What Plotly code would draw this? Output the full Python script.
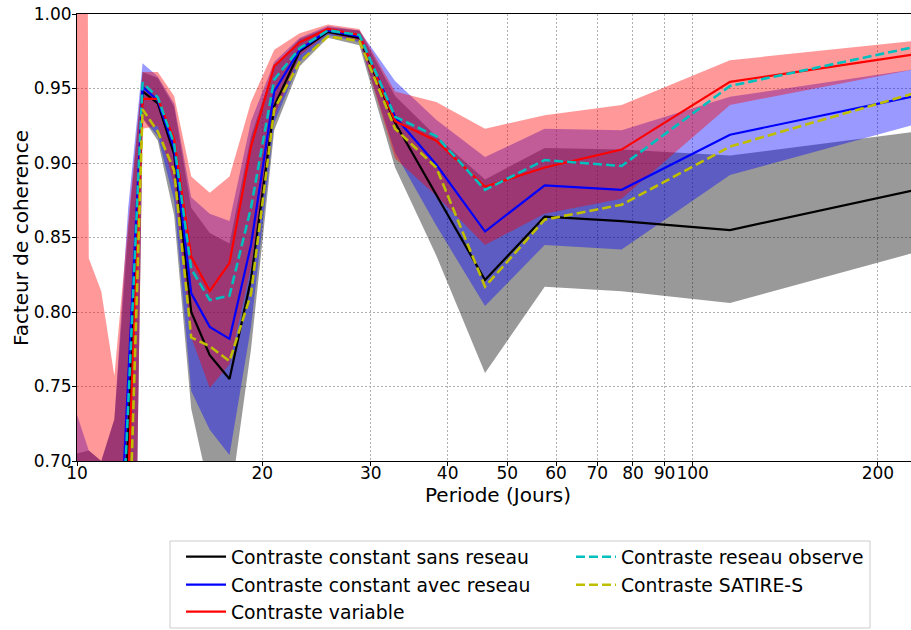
import plotly.graph_objects as go

# Periods (days), ascending
periods = [10.0, 10.45, 10.95, 11.5, 12.11, 12.78, 13.53, 14.38, 15.33, 16.43, 17.69, 19.17,
           20.91, 23.0, 25.56, 28.75, 32.86, 38.33, 46.0, 57.5, 76.67, 115.0, 230.0]

# Coherence factors per model
sans_reseau = [0.45, 0.45, 0.47, 0.50, 0.718, 0.948, 0.940, 0.906, 0.800, 0.771, 0.755, 0.822,
               0.938, 0.975, 0.988, 0.984, 0.927, 0.879, 0.8215, 0.864, 0.861, 0.855, 0.882]
avec_reseau = [0.50, 0.50, 0.52, 0.565, 0.755, 0.951, 0.942, 0.910, 0.8125, 0.790, 0.782, 0.845,
               0.948, 0.976, 0.989, 0.985, 0.931, 0.899, 0.854, 0.885, 0.882, 0.919, 0.945]
variable = [0.40, 0.40, 0.40, 0.40, 0.685, 0.943, 0.943, 0.916, 0.837, 0.814, 0.833, 0.911,
            0.965, 0.981, 0.990, 0.986, 0.928, 0.915, 0.884, 0.897, 0.909, 0.9545, 0.973]
reseau_observe = [0.48, 0.48, 0.50, 0.532, 0.737, 0.954, 0.944, 0.913, 0.829, 0.808, 0.811, 0.870,
                  0.956, 0.977, 0.989, 0.986, 0.931, 0.918, 0.882, 0.902, 0.898, 0.9517, 0.978]
satire_s = [0.35, 0.35, 0.35, 0.35, 0.623, 0.936, 0.921, 0.895, 0.783, 0.777, 0.767, 0.812,
            0.936, 0.968, 0.985, 0.982, 0.923, 0.897, 0.817, 0.862, 0.872, 0.911, 0.947]

# Uncertainty envelopes
gris_haut = [0.705, 0.707, 0.70, 0.728, 0.855, 0.961, 0.957, 0.938, 0.870, 0.853, 0.846, 0.918,
             0.965, 0.983, 0.991, 0.989, 0.945, 0.918, 0.889, 0.910, 0.909, 0.905, 0.921]
gris_bas = [0.2, 0.2, 0.2, 0.2, 0.3, 0.930, 0.915, 0.865, 0.735, 0.679, 0.67, 0.775,
            0.922, 0.965, 0.984, 0.979, 0.897, 0.838, 0.759, 0.817, 0.814, 0.806, 0.840]
bleu_haut = [0.731, 0.707, 0.70, 0.728, 0.87, 0.967, 0.958, 0.940, 0.877, 0.866, 0.861, 0.928,
             0.968, 0.984, 0.992, 0.989, 0.955, 0.929, 0.904, 0.923, 0.922, 0.9445, 0.963]
bleu_bas = [0.2, 0.2, 0.2, 0.2, 0.3, 0.930, 0.918, 0.875, 0.747, 0.721, 0.704, 0.79,
            0.927, 0.968, 0.986, 0.981, 0.907, 0.858, 0.804, 0.845, 0.842, 0.892, 0.926]
rouge_haut = [3.0, 0.836, 0.814, 0.757, 0.86, 0.961, 0.961, 0.945, 0.891, 0.880, 0.891, 0.941,
              0.976, 0.987, 0.993, 0.990, 0.948, 0.941, 0.923, 0.932, 0.939, 0.969, 0.982]
rouge_bas = [0.2, 0.2, 0.2, 0.2, 0.3, 0.923, 0.925, 0.885, 0.783, 0.749, 0.765, 0.83,
             0.931, 0.972, 0.987, 0.982, 0.903, 0.878, 0.845, 0.866, 0.876, 0.939, 0.963]

x_ticks = [10, 20, 30, 40, 50, 60, 70, 80, 90, 100, 200]
x_ticklabels = ["10", "20", "30", "40", "50", "60", "70", "80", "90", "100", "200"]
y_ticks = [0.70, 0.75, 0.80, 0.85, 0.90, 0.95, 1.00]
y_ticklabels = ["0.70", "0.75", "0.80", "0.85", "0.90", "0.95", "1.00"]

FONT = "DejaVu Sans"
fig = go.Figure()

for up, lo, col in [(gris_haut, gris_bas, "rgba(0,0,0,0.4)"),
                    (bleu_haut, bleu_bas, "rgba(0,0,255,0.4)"),
                    (rouge_haut, rouge_bas, "rgba(255,0,0,0.4)")]:
    fig.add_trace(go.Scatter(x=periods + periods[::-1], y=up + lo[::-1], fill="toself",
                             fillcolor=col, line=dict(width=0), mode="lines",
                             showlegend=False, hoverinfo="skip"))

series = [
    ("Contraste constant sans reseau", sans_reseau, "black", "solid", "legend"),
    ("Contraste constant avec reseau", avec_reseau, "#0000ff", "solid", "legend2"),
    ("Contraste variable", variable, "#ff0000", "solid", "legend3"),
    ("Contraste reseau observe", reseau_observe, "#00bfbf", "9px,4px", "legend"),
    ("Contraste SATIRE-S", satire_s, "#bfbf00", "9px,4px", "legend2"),
]
for name, ys, col, dash, lg in series:
    fig.add_trace(go.Scatter(x=periods, y=ys, mode="lines", name=name, legend=lg,
                             line=dict(color=col, width=2.2 if dash == "solid" else 2.6, dash=dash)))

W, H = 911, 630
L, T, B_AX = 77, 14, 461   # plot area: left, top, bottom (px)
PW, PH = W - L, B_AX - T

def px_x(p):
    return (p - L) / PW

def px_y(p):
    return (B_AX - p) / PH

def leg(ycenter):
    return dict(orientation="h", xref="container", yref="container", x=181 / W,
                y=1 - ycenter / H, xanchor="left", yanchor="middle",
                entrywidth=335, entrywidthmode="pixels", bgcolor="rgba(0,0,0,0)",
                borderwidth=0, font=dict(family=FONT, size=18.8, color="black"),
                itemwidth=40, traceorder="normal")

fig.update_layout(
    width=W, height=H,
    margin=dict(l=L, r=0, t=T, b=H - B_AX, autoexpand=False),
    paper_bgcolor="white", plot_bgcolor="white",
    font=dict(family=FONT, size=17, color="black"),
    legend=leg(557), legend2=leg(585), legend3=leg(612),
    xaxis=dict(type="log", range=[1, 2.3547], tickvals=x_ticks, ticktext=x_ticklabels,
               tickangle=0, automargin=False, ticklabelstandoff=-7,
               showgrid=True, gridcolor="#b0b0b0", griddash="2px,2px", gridwidth=1,
               showline=True, linecolor="black", linewidth=1, mirror=True,
               ticks="outside", ticklen=4, tickcolor="black", zeroline=False,
               tickfont=dict(size=17)),
    yaxis=dict(range=[0.70, 1.0000001], tickvals=y_ticks, ticktext=y_ticklabels,
               automargin=False, ticklabelstandoff=-3, ticklabeloverflow="allow",
               showgrid=True, gridcolor="#b0b0b0", griddash="2px,2px", gridwidth=1,
               showline=True, linecolor="black", linewidth=1, mirror=False,
               ticks="outside", ticklen=4, tickcolor="black", zeroline=False,
               tickfont=dict(size=17)),
    annotations=[
        dict(text="Periode (Jours)", xref="paper", yref="paper", x=px_x(498),
             y=px_y(495), xanchor="center", yanchor="middle", showarrow=False,
             font=dict(family=FONT, size=20, color="black")),
        dict(text="Facteur de coherence", xref="paper", yref="paper", x=px_x(21),
             y=px_y(238), xanchor="center", yanchor="middle", showarrow=False,
             textangle=-90, font=dict(family=FONT, size=20, color="black")),
    ],
    shapes=[dict(type="rect", xref="paper", yref="paper",
                 x0=px_x(170), x1=px_x(870), y0=px_y(628), y1=px_y(541),
                 line=dict(color="#cccccc", width=1), fillcolor="rgba(255,255,255,0.8)",
                 layer="below")],
)

fig.write_html("out.html", config={"displayModeBar": False},
               post_script="document.body.style.margin='0';document.body.style.overflow='hidden';")
